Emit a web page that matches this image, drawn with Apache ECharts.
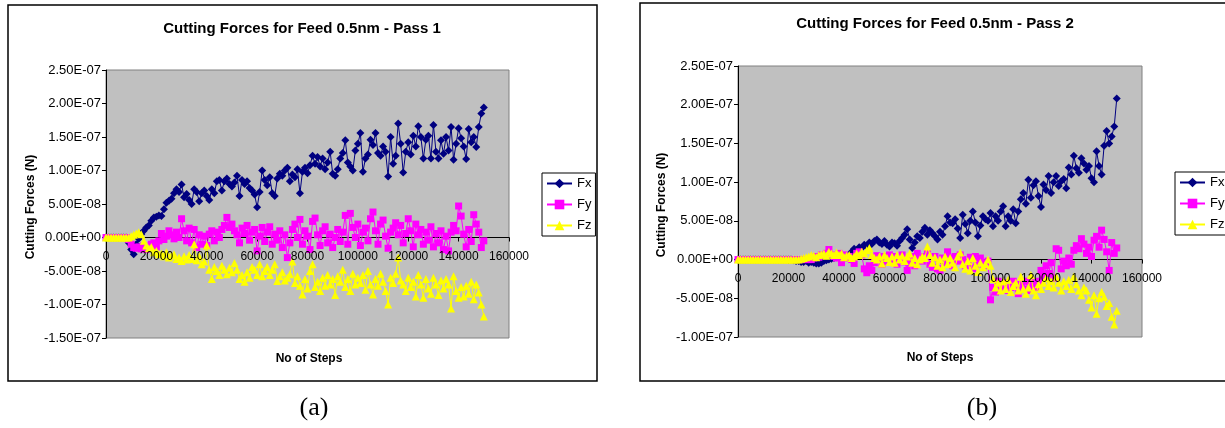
<!DOCTYPE html>
<html>
<head>
<meta charset="utf-8">
<script src="https://cdn.jsdelivr.net/npm/echarts@6/dist/echarts.min.js"></script>
<style>
html,body{margin:0;padding:0;background:#fff;}
#c{width:1225px;height:428px;}
</style>
</head>
<body>
<div id="c"></div>
<script>
// Step numbers (x values)
const steps = [0,1000,2000,3000,4000,5000,6000,7000,8000,9000,10000,11000,12000,13000,14000,15000,16000,17000,18000,19000,
20000,21000,22000,23000,24000,25000,26000,27000,28000,29000,30000,31000,32000,33000,34000,35000,36000,37000,38000,39000,
40000,41000,42000,43000,44000,45000,46000,47000,48000,49000,50000,51000,52000,53000,54000,55000,56000,57000,58000,59000,
60000,61000,62000,63000,64000,65000,66000,67000,68000,69000,70000,71000,72000,73000,74000,75000,76000,77000,78000,79000,
80000,81000,82000,83000,84000,85000,86000,87000,88000,89000,90000,91000,92000,93000,94000,95000,96000,97000,98000,99000,
100000,101000,102000,103000,104000,105000,106000,107000,108000,109000,110000,111000,112000,113000,114000,115000,116000,117000,118000,119000,
120000,121000,122000,123000,124000,125000,126000,127000,128000,129000,130000,131000,132000,133000,134000,135000,136000,137000,138000,139000,
140000,141000,142000,143000,144000,145000,146000,147000,148000,149000,150000];

// Pass 1 forces, in units of 1e-9 N
const fxPass1 = [0,0,0,0,0,0,0,0,0,-8,-18,-25,-10,-2,5,10,15,18,25,30,
31,33,32,42,52,55,58,66,72,68,79,60,65,56,50,72,68,54,66,70,
62,56,72,66,84,86,70,84,88,80,76,82,92,62,86,80,84,74,70,64,
45,68,100,86,78,90,66,62,88,95,92,100,104,84,94,90,102,66,98,104,
96,108,122,110,120,106,118,102,112,128,95,92,102,118,126,145,112,106,100,130,
140,156,98,118,124,146,138,156,126,122,136,128,91,150,110,122,170,140,97,128,
142,124,152,136,166,150,118,146,152,118,168,128,118,145,125,150,130,165,116,140,
163,148,136,117,162,142,150,135,165,185,194];
const fyPass1 = [0,0,0,0,0,0,0,0,0,-3,-10,-15,-16,-14,-17,-12,-18,-15,-10,-8,
-14,-5,6,-3,2,10,4,-2,8,0,28,10,-5,14,-8,12,-15,4,-10,2,
-12,5,10,-5,8,0,12,18,30,15,20,10,4,-8,14,6,18,-4,8,12,
-20,2,15,-6,8,16,-10,5,-4,10,-15,4,-30,-8,12,20,0,27,-10,10,
2,-18,24,29,4,-12,10,16,-8,5,-15,0,12,-6,8,33,-10,36,15,0,
20,-12,8,14,-5,28,38,10,-10,20,26,2,-16,8,14,22,4,18,-8,6,
28,10,-14,20,4,12,-10,8,-4,16,-14,6,-8,10,-18,2,-20,8,18,10,
47,32,5,-14,12,-6,34,20,8,-15,-5];
const fzPass1 = [0,0,0,0,0,0,0,0,0,0,2,4,6,8,5,-5,-12,-16,-14,-22,
-20,-25,-24,-28,-22,-30,-27,-25,-32,-30,-35,-28,-33,-26,-32,-10,-34,-28,-40,-36,
-12,-48,-62,-44,-50,-56,-42,-48,-55,-45,-52,-38,-48,-62,-56,-66,-52,-60,-44,-48,
-56,-40,-58,-50,-44,-56,-48,-40,-65,-58,-52,-64,-60,-55,-36,-68,-58,-72,-85,-62,
-76,-50,-40,-74,-66,-80,-60,-72,-56,-70,-62,-86,-58,-66,-48,-74,-62,-80,-54,-70,
-60,-68,-56,-78,-50,-70,-85,-62,-72,-54,-66,-80,-100,-60,-68,-54,-30,-64,-70,-80,
-60,-74,-66,-88,-56,-70,-90,-62,-76,-84,-60,-70,-86,-64,-76,-62,-70,-106,-58,-80,
-90,-74,-88,-72,-84,-66,-92,-70,-82,-100,-118];

// Pass 2 forces, in units of 1e-9 N
const fxPass2 = [0,0,0,0,0,0,0,0,0,0,0,0,0,0,0,0,0,0,0,0,
0,0,-1,-2,-2,-3,-3,-2,-4,-3,-4,-5,-5,-4,-2,-1,0,1,2,3,
2,4,5,4,6,10,14,12,16,15,19,17,22,20,24,26,22,20,24,19,
17,22,21,18,24,28,32,39,26,15,22,30,28,36,41,32,38,34,30,26,
36,32,43,56,48,47,52,40,28,58,46,34,50,62,48,30,44,56,52,50,
60,43,56,50,62,69,43,56,50,65,47,62,78,86,72,103,80,96,101,82,
68,97,90,108,86,100,108,95,101,104,92,119,110,134,118,112,131,124,116,121,
105,100,140,121,110,147,166,150,159,172,208];
const fyPass2 = [0,0,0,0,0,0,0,0,0,0,0,0,0,0,0,0,0,0,0,0,
0,0,0,0,0,0,0,0,0,0,2,4,3,6,5,8,13,6,4,2,
8,-4,6,2,4,0,-5,8,10,6,-12,-17,-8,-14,-4,5,2,-6,4,-2,
6,0,4,-6,2,6,-3,-14,-5,4,-8,8,2,-2,4,8,-6,-10,4,-12,
-14,2,-4,10,2,-8,4,-2,6,0,-8,-4,3,-12,4,-6,2,-4,-8,-2,
-52,-36,-42,-28,-34,-38,-30,-40,-36,-28,-34,-44,-32,-38,-28,-40,-33,-30,-36,-28,
-14,-22,-8,-18,-4,-24,14,12,-12,-2,-8,2,-6,12,18,14,27,20,8,16,
4,25,30,16,38,26,10,-14,22,8,15];
const fzPass2 = [0,0,0,0,0,0,0,0,0,0,0,0,0,0,0,0,0,0,0,0,
0,0,0,0,0,1,2,3,4,6,5,3,6,7,8,5,10,8,6,9,
6,8,3,5,6,2,4,8,6,10,8,12,15,6,2,0,4,-5,6,2,
-3,4,-4,6,0,5,-2,4,8,-4,2,-6,0,4,2,17,6,-4,3,-8,
0,-10,4,-6,2,-4,-10,4,9,-6,-12,-2,-14,2,-8,-16,-4,-10,-6,0,
-8,-25,-36,-30,-40,-28,-38,-26,-42,-34,-30,-40,-22,-38,-44,-36,-20,-40,-46,-32,
-38,-30,-24,-34,-28,-36,-22,-30,-40,-28,-34,-26,-38,-22,-32,-40,-46,-36,-40,-52,
-62,-46,-70,-50,-42,-48,-60,-56,-74,-84,-66];

const seriesNames = ['Fx','Fy','Fz'];
const titles = ['Cutting Forces for Feed 0.5nm - Pass 1','Cutting Forces for Feed 0.5nm - Pass 2'];
const xTicks = {min:0, max:160000, interval:20000};
const yRangePass1 = {min:-150, max:250, interval:50};
const yRangePass2 = {min:-100, max:250, interval:50};

const FONT = 'Liberation Sans, Arial, sans-serif';

function sci(v){
  const n = v * 1e-9;
  if (Math.abs(n) < 1e-15) return '0.00E+00';
  const parts = n.toExponential(2).split('e');
  const ei = parseInt(parts[1], 10);
  const ea = Math.abs(ei);
  return parts[0] + 'E' + (ei < 0 ? '-' : '+') + (ea < 10 ? '0' + ea : '' + ea);
}
function pairs(ys){ return steps.map((s,i)=>[s, ys[i]]); }

const colors = ['#000080','#FF00FF','#FFFF00'];
const symbols = ['diamond','rect','triangle'];
const symSizes = [8,7,8];

// xAxis indices: 2*gi = labels axis (drawn above marks), 2*gi+1 = line axis (drawn below marks)
function mkSeries(gi, arrs){
  return arrs.map((a,k)=>({
    name: seriesNames[k], type:'line', xAxisIndex:2*gi, yAxisIndex:gi,
    data: pairs(a), symbol: symbols[k], symbolSize: symSizes[k], showSymbol:true,
    lineStyle:{color:colors[k], width:1}, itemStyle:{color:colors[k], borderWidth:0},
    animation:false, z: 3+k
  }));
}

const grids = [
  {left:106, top:70, width:403, height:268},
  {left:738, top:66, width:404, height:271}
];
const yRanges = [yRangePass1, yRangePass2];

// pixel offset to move the x axis (line, ticks, labels) up to the zero line
function zeroOffset(gi){
  const g = grids[gi], r = yRanges[gi];
  return -(g.height * (0 - r.min) / (r.max - r.min));
}

function xAxisLabels(gi){
  return {type:'value', gridIndex:gi, min:xTicks.min, max:xTicks.max, interval:xTicks.interval,
    position:'bottom', offset: zeroOffset(gi), z:10,
    axisLine:{show:false, onZero:false},
    axisTick:{show:false},
    axisLabel:{color:'#000', fontSize:12, fontFamily:FONT, margin:13, showMinLabel:true, showMaxLabel:true,
      formatter:function(v){ return String(v); }},
    splitLine:{show:false}};
}
function xAxisLine(gi){
  return {type:'value', gridIndex:gi, min:xTicks.min, max:xTicks.max, interval:xTicks.interval,
    position:'bottom', offset: zeroOffset(gi), z:0,
    axisLine:{show:true, onZero:false, lineStyle:{color:'#000', width:1}},
    axisTick:{show:true, inside:false, length:4, lineStyle:{color:'#000'}},
    axisLabel:{show:false},
    splitLine:{show:false}};
}
function yAxisCfg(gi, r){
  return {type:'value', gridIndex:gi, min:r.min, max:r.max, interval:r.interval,
    axisLine:{show:true, onZero:false, lineStyle:{color:'#000', width:1}},
    axisTick:{show:true, inside:false, length:4, lineStyle:{color:'#000'}},
    axisLabel:{color:'#000', fontSize:13, fontFamily:FONT, margin:5, formatter:sci},
    splitLine:{show:false}};
}

function legendCfg(left, top){
  return {orient:'vertical', left:left, top:top, data:seriesNames,
    backgroundColor:'#fff', borderColor:'#000', borderWidth:1, padding:[4,4,4,4],
    itemWidth:25, itemHeight:12, itemGap:8,
    textStyle:{color:'#000', fontSize:13, fontFamily:FONT}, selectedMode:false};
}

function label(x,y,text,font,rot){
  const el = {type:'text', silent:true, z:10, x:x, y:y,
    style:{x:0, y:0, text:text, fill:'#000', font:font, align:'center', verticalAlign:'middle'}};
  if (rot) el.rotation = rot;
  return el;
}

const option = {
  animation:false,
  backgroundColor:'#fff',
  grid: grids.map(g=>Object.assign({show:true, backgroundColor:'#C0C0C0', borderColor:'#808080', borderWidth:1}, g)),
  xAxis:[xAxisLabels(0), xAxisLine(0), xAxisLabels(1), xAxisLine(1)],
  yAxis:[yAxisCfg(0, yRangePass1), yAxisCfg(1, yRangePass2)],
  legend:[legendCfg(542,173), legendCfg(1175,172)],
  series: mkSeries(0,[fxPass1,fyPass1,fzPass1]).concat(mkSeries(1,[fxPass2,fyPass2,fzPass2])),
  graphic:[
    {type:'rect', silent:true, z:0, shape:{x:8,y:5,width:589,height:376}, style:{fill:'none', stroke:'#000', lineWidth:1.5}},
    {type:'rect', silent:true, z:0, shape:{x:640,y:3,width:590,height:378}, style:{fill:'none', stroke:'#000', lineWidth:1.5}},
    label(302,29,titles[0],'bold 15px '+FONT),
    label(935,24,titles[1],'bold 15px '+FONT),
    label(31,207,'Cutting Forces (N)','bold 12px '+FONT, Math.PI/2),
    label(662,205,'Cutting Forces (N)','bold 12px '+FONT, Math.PI/2),
    label(309,359,'No of Steps','bold 12px '+FONT),
    label(940,358,'No of Steps','bold 12px '+FONT),
    label(314,408,'(a)','26px Liberation Serif, Times New Roman, serif'),
    label(982,408,'(b)','26px Liberation Serif, Times New Roman, serif')
  ]
};

const chart = echarts.init(document.getElementById('c'), null, {renderer:'canvas'});
chart.setOption(option);
</script>
</body>
</html>
